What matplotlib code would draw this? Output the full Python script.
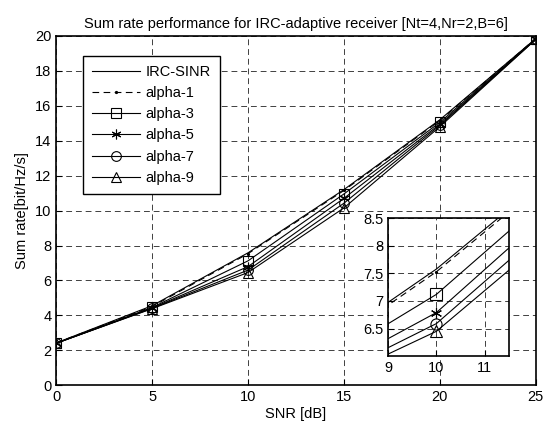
import numpy as np
import matplotlib
matplotlib.use('Agg')
import matplotlib.pyplot as plt

plt.rcParams['font.family'] = ['Liberation Sans', 'DejaVu Sans']

snr = [0, 5, 10, 15, 20, 25]
irc_sinr = [2.42, 4.55, 7.58, 11.2, 15.2, 19.85]
alpha_1 = [2.42, 4.5, 7.53, 11.15, 15.15, 19.85]
alpha_3 = [2.4, 4.45, 7.12, 10.95, 15.05, 19.83]
alpha_5 = [2.4, 4.42, 6.79, 10.7, 14.95, 19.82]
alpha_7 = [2.4, 4.4, 6.59, 10.42, 14.88, 19.8]
alpha_9 = [2.4, 4.38, 6.45, 10.15, 14.8, 19.8]

labels = ['IRC-SINR', 'alpha-1', 'alpha-3', 'alpha-5', 'alpha-7', 'alpha-9']
series = [irc_sinr, alpha_1, alpha_3, alpha_5, alpha_7, alpha_9]
# asterisk marker like matlab's '*'
styles = [('-', None), ((0, (6, 4)), '.'), ('-', 's'), ('-', (6, 2, 0)),
          ('-', 'o'), ('-', '^')]


def draw(ax, ms):
    for y, lab, (ls, mk) in zip(series, labels, styles):
        dot = isinstance(mk, str) and mk == '.'
        ax.plot(snr, y, linestyle=ls, marker=mk, color='k', lw=0.8,
                markersize=3 if dot else ms,
                markerfacecolor='k' if dot else 'none',
                markeredgewidth=0.8, label=lab)
    ax.grid(True, linestyle=(0, (6, 4)), color='k', lw=0.7, alpha=0.75)
    ax.tick_params(direction='in', labelsize=10.5, length=4)
    for s in ax.spines.values():
        s.set_linewidth(1.2)


fig = plt.figure(figsize=(5.45, 4.28), dpi=100)
ax = fig.add_axes([0.103, 0.100, 0.880, 0.816])
draw(ax, 7)
ax.set_xlim(0, 25)
ax.set_ylim(0, 20)
ax.set_xticks(np.arange(0, 26, 5))
ax.set_yticks(np.arange(0, 21, 2))
ax.set_xlabel('SNR [dB]', fontsize=10.5, labelpad=2)
ax.set_ylabel('Sum rate[bit/Hz/s]', fontsize=10.5, labelpad=4)
ax.set_title('Sum rate performance for IRC-adaptive receiver [Nt=4,Nr=2,B=6]',
             fontsize=10.5, pad=6)
leg = ax.legend(loc='upper left', bbox_to_anchor=(0.056, 0.943), fontsize=10.5,
                fancybox=False, edgecolor='k', framealpha=1, handlelength=3.3,
                handletextpad=0.4, borderaxespad=0, labelspacing=0.5,
                borderpad=0.6)
leg.get_frame().set_linewidth(1.0)

ins = fig.add_axes([0.712, 0.168, 0.222, 0.322])
draw(ins, 8)
ins.set_xlim(9, 11.5)
ins.set_ylim(6, 8.5)
ins.set_xticks([9, 10, 11])
ins.set_yticks([6.5, 7, 7.5, 8, 8.5])
ins.set_yticklabels(['6.5', '7', '7.5', '8', '8.5'])

fig.savefig('out.png', dpi=100)
